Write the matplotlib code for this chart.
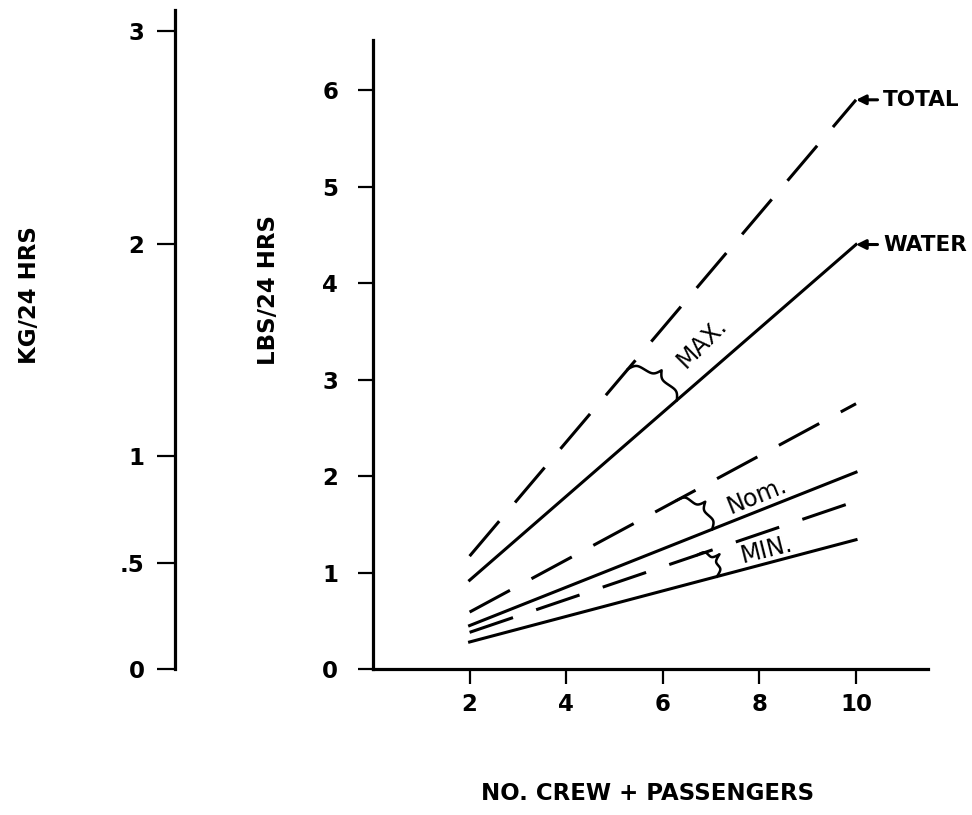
"""
Waste water / total output per 24 hrs vs. number of crew + passengers
"""
import numpy as np
import matplotlib
matplotlib.use('Agg')
import matplotlib.pyplot as plt

plt.rcParams['font.family'] = 'DejaVu Sans'

# Data
crew = [2, 10]
total_max = [1.17, 5.90]
water_max = [0.92, 4.40]
total_nom = [0.59, 2.75]
water_nom = [0.45, 2.04]
total_min = [0.38, 1.74]
water_min = [0.28, 1.34]

x_ticks = [2, 4, 6, 8, 10]
lbs_ticks = [0, 1, 2, 3, 4, 5, 6]
kg_ticks = [0, 0.5, 1, 2, 3]
kg_labels = ['0', '.5', '1', '2', '3']
LB_PER_KG = 2.2046

# brace: x on dashed line, x on solid line, label, label pos, rotation
braces = [
    ('MAX.', total_max, water_max, 5.28, 6.29, (6.80, 3.38), 45),
    ('Nom.', total_nom, water_nom, 6.29, 7.02, (7.95, 1.80), 22),
    ('MIN.', total_min, water_min, 6.71, 7.12, (8.15, 1.24), 14),
]

fig = plt.figure(figsize=(9.72, 8.15), dpi=100)
W, H = 972, 815
FS = 16.5

# main axes (pixel layout)
y_top = 6.52
ax = fig.add_axes([373 / W, (H - 669) / H, (928 - 373) / W, (669 - 40) / H])
ax.set_xlim(0, 11.49)
ax.set_ylim(0, y_top)
for s in ['top', 'right']:
    ax.spines[s].set_visible(False)
for s in ['left', 'bottom']:
    ax.spines[s].set_linewidth(2.3)
ax.set_xticks(x_ticks)
ax.set_yticks(lbs_ticks)
ax.tick_params(direction='out', length=11, width=1.6, labelsize=FS, pad=6)
ax.tick_params(axis='y', pad=14)
for lab in ax.get_xticklabels() + ax.get_yticklabels():
    lab.set_fontweight('bold')

lw = 2.2
dash = (15, 8)
ax.plot(crew, total_max, color='k', lw=lw, dashes=dash)
ax.plot(crew, water_max, color='k', lw=lw)
ax.plot(crew, total_nom, color='k', lw=lw, dashes=dash)
ax.plot(crew, water_nom, color='k', lw=lw)
ax.plot(crew, total_min, color='k', lw=lw, dashes=dash)
ax.plot(crew, water_min, color='k', lw=lw)

# end labels with arrows
for label, series in [('TOTAL', total_max), ('WATER', water_max)]:
    ax.annotate(label, xy=(crew[-1], series[-1]), xytext=(10.56, series[-1]),
                va='center', ha='left', fontsize=15.5, fontweight='bold',
                annotation_clip=False,
                arrowprops=dict(arrowstyle='-|>', color='k', lw=2.2,
                                mutation_scale=14, shrinkA=2, shrinkB=0))


def draw_brace(ax, p1, p2, width=17, beta=26):
    a = ax.transData.transform(p1)
    b = ax.transData.transform(p2)
    u = b - a
    L = np.hypot(*u)
    u = u / L
    n = np.array([-u[1], u[0]])
    t = np.linspace(0, 1, 101)
    half = t[:51]
    yh = (1 / (1 + np.exp(-beta * (half - half[0])))
          + 1 / (1 + np.exp(-beta * (half - half[-1]))))
    y = np.concatenate((yh, yh[-2::-1])) - 0.5
    pts = a + np.outer(t * L, u) + np.outer(y * width, n)
    d = ax.transData.inverted().transform(pts)
    ax.plot(d[:, 0], d[:, 1], color='k', lw=1.8)


for label, top, bot, xa, xb, pos, rot in braces:
    p1 = (xa, np.interp(xa, crew, top))
    p2 = (xb, np.interp(xb, crew, bot))
    draw_brace(ax, p1, p2)
    ax.text(pos[0], pos[1], label, rotation=rot, rotation_mode='anchor',
            ha='center', va='center', fontsize=17)

# KG scale on the far left
kg_top = y_top * (659 / 629) / LB_PER_KG
ax_kg = fig.add_axes([175 / W, (H - 669) / H, 0.01, 659 / H])
ax_kg.set_ylim(0, kg_top)
ax_kg.set_xticks([])
for s in ['top', 'right', 'bottom']:
    ax_kg.spines[s].set_visible(False)
ax_kg.spines['left'].set_linewidth(2.3)
ax_kg.patch.set_visible(False)
ax_kg.set_yticks(kg_ticks)
ax_kg.set_yticklabels(kg_labels, fontweight='bold')
ax_kg.tick_params(direction='out', length=13, width=1.6, labelsize=FS, pad=9)

# axis titles
fig.text(30 / W, (H - 295) / H, 'KG/24 HRS', rotation=90, ha='center',
         va='center', fontsize=FS, fontweight='bold')
fig.text(268 / W, (H - 290) / H, 'LBS/24 HRS', rotation=90, ha='center',
         va='center', fontsize=FS, fontweight='bold')
fig.text(648 / W, (H - 793) / H, 'NO. CREW + PASSENGERS', ha='center',
         va='center', fontsize=FS, fontweight='bold')

fig.savefig('out.png', dpi=100)
